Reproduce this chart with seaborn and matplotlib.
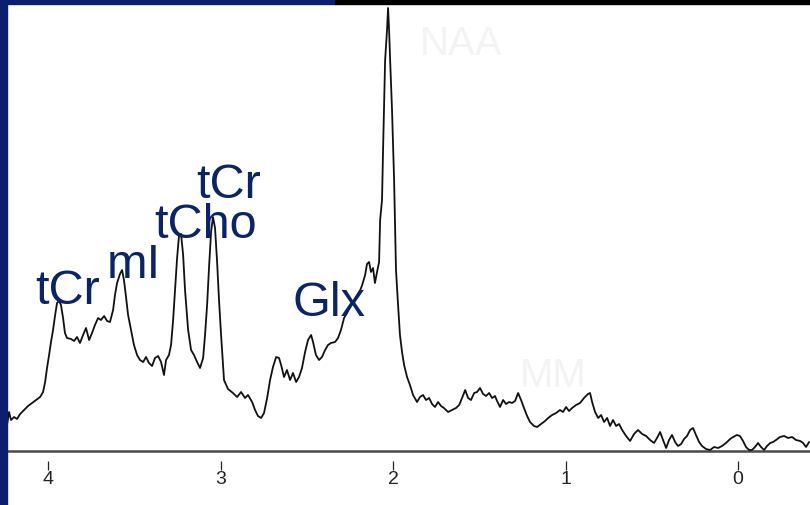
import matplotlib
matplotlib.use("Agg")
import matplotlib.pyplot as plt
from matplotlib.patches import Rectangle
import seaborn as sns
import pandas as pd

# Proton MR spectrum: chemical shift (ppm) and signal intensity (arbitrary units)
ppm = [
    4.238, 4.226, 4.215, 4.197, 4.180, 4.162, 4.139, 4.116, 4.093, 4.070,
    4.046, 4.029, 4.017, 4.006, 3.994, 3.983, 3.971, 3.959, 3.948, 3.936,
    3.925, 3.913, 3.902, 3.890, 3.867, 3.849, 3.832, 3.815, 3.797, 3.780,
    3.762, 3.745, 3.728, 3.710, 3.693, 3.675, 3.658, 3.641, 3.623, 3.612,
    3.600, 3.583, 3.571, 3.560, 3.548, 3.536, 3.519, 3.502, 3.484, 3.467,
    3.449, 3.432, 3.415, 3.397, 3.380, 3.362, 3.345, 3.328, 3.316, 3.299,
    3.287, 3.275, 3.264, 3.252, 3.241, 3.229, 3.217, 3.206, 3.188, 3.171,
    3.154, 3.136, 3.119, 3.101, 3.090, 3.078, 3.067, 3.055, 3.044, 3.032,
    3.020, 3.009, 2.997, 2.980, 2.957, 2.928, 2.904, 2.881, 2.858, 2.841,
    2.817, 2.800, 2.783, 2.765, 2.748, 2.730, 2.713, 2.696, 2.678, 2.661,
    2.649, 2.632, 2.615, 2.597, 2.580, 2.562, 2.545, 2.528, 2.510, 2.493,
    2.475, 2.464, 2.447, 2.429, 2.412, 2.394, 2.377, 2.360, 2.336, 2.319,
    2.302, 2.284, 2.267, 2.249, 2.232, 2.214, 2.197, 2.179, 2.162, 2.151,
    2.139, 2.128, 2.116, 2.105, 2.093, 2.081, 2.075, 2.064, 2.058, 2.046,
    2.035, 2.029, 2.023, 2.017, 2.006, 1.994, 1.983, 1.971, 1.960, 1.948,
    1.936, 1.919, 1.902, 1.884, 1.861, 1.844, 1.826, 1.809, 1.791, 1.774,
    1.757, 1.739, 1.722, 1.705, 1.681, 1.658, 1.635, 1.617, 1.600, 1.582,
    1.565, 1.548, 1.530, 1.513, 1.496, 1.478, 1.461, 1.443, 1.426, 1.409,
    1.397, 1.380, 1.362, 1.345, 1.327, 1.310, 1.293, 1.275, 1.258, 1.241,
    1.223, 1.206, 1.183, 1.165, 1.142, 1.119, 1.101, 1.078, 1.055, 1.032,
    1.015, 0.997, 0.980, 0.962, 0.939, 0.916, 0.893, 0.870, 0.858, 0.846,
    0.829, 0.811, 0.794, 0.777, 0.759, 0.742, 0.725, 0.707, 0.690, 0.672,
    0.649, 0.626, 0.603, 0.580, 0.556, 0.533, 0.510, 0.487, 0.470, 0.452,
    0.435, 0.417, 0.400, 0.383, 0.365, 0.348, 0.330, 0.313, 0.296, 0.278,
    0.261, 0.244, 0.226, 0.209, 0.186, 0.162, 0.139, 0.116, 0.093, 0.070,
    0.046, 0.029, 0.006, -0.011, -0.029, -0.046, -0.064, -0.081, -0.098, -0.116,
    -0.133, -0.151, -0.168, -0.186, -0.203, -0.220, -0.243, -0.267, -0.290, -0.313,
    -0.336, -0.360, -0.377, -0.394, -0.412,
]
intensity = [
    26, 39, 31, 34, 32, 37, 41, 45, 48, 51,
    54, 59, 69, 83, 96, 109, 121, 136, 148, 150,
    146, 133, 118, 113, 112, 110, 114, 108, 116, 123,
    111, 118, 126, 133, 131, 135, 130, 129, 141, 156,
    168, 177, 181, 171, 154, 136, 121, 106, 96, 91,
    89, 94, 88, 85, 93, 95, 89, 76, 91, 96,
    106, 131, 161, 193, 215, 217, 196, 161, 121, 101,
    96, 89, 83, 93, 116, 146, 183, 219, 234, 223,
    189, 151, 116, 71, 62, 58, 54, 59, 53, 56,
    49, 41, 35, 33, 38, 53, 71, 84, 94, 93,
    86, 74, 81, 71, 78, 69, 74, 83, 99, 111,
    116, 109, 96, 91, 94, 101, 106, 108, 109, 113,
    121, 133, 138, 145, 149, 154, 158, 166, 176, 187,
    189, 179, 183, 168, 179, 189, 231, 251, 301, 391,
    421, 443, 421, 391, 341, 271, 181, 146, 116, 99,
    86, 74, 66, 56, 49, 54, 56, 51, 53, 47,
    44, 49, 45, 43, 39, 41, 43, 46, 53, 61,
    53, 51, 58, 59, 63, 57, 55, 58, 53, 55,
    50, 44, 51, 47, 49, 48, 50, 58, 51, 43,
    35, 29, 25, 24, 27, 30, 33, 36, 38, 41,
    39, 44, 40, 43, 46, 48, 53, 57, 58, 49,
    39, 33, 36, 29, 33, 25, 31, 25, 27, 21,
    15, 10, 17, 21, 17, 15, 11, 8, 13, 19,
    11, 3, 11, 16, 9, 5, 7, 12, 15, 21,
    23, 16, 9, 5, 2, 1, 4, 3, 5, 8,
    12, 14, 16, 15, 10, 4, 1, 1, 4, 8,
    4, 1, 5, 8, 9, 11, 14, 15, 13, 14,
    11, 10, 8, 4, 9,
]

# Metabolite labels: text, left edge (ppm), baseline (intensity)
peak_labels = ["tCr", "mI", "tCho", "tCr", "Glx"]
label_ppm = [4.075, 3.662, 3.385, 3.141, 2.585]
label_height = [147, 173, 213, 253, 135]

# Faint background labels
faint_labels = ["NAA", "MM"]
faint_ppm = [1.843, 1.264]
faint_height = [396, 64]

tick_values = [4, 3, 2, 1, 0]
tick_labels = ["4", "3", "2", "1", "0"]

sns.set_style("white")
plt.rcParams["font.family"] = ["Liberation Sans", "DejaVu Sans"]

W, H = 810, 505
fig = plt.figure(figsize=(W / 100, H / 100), dpi=100)
fig.patch.set_facecolor("white")

# slide frame: blue strip on the left and top, black bar on the top right
navy = "#0b1f6e"
fig.patches.append(Rectangle((0, 0), 7 / W, 1, transform=fig.transFigure,
                             color=navy, zorder=0))
fig.patches.append(Rectangle((0, 1 - 4 / H), 335 / W, 4 / H,
                             transform=fig.transFigure, color=navy, zorder=0))
fig.patches.append(Rectangle((335 / W, 1 - 4 / H), 1 - 335 / W, 4 / H,
                             transform=fig.transFigure, color="black", zorder=0))

ax = fig.add_axes([7 / W, 0, (W - 7) / W, (H - 4) / H])
ax.set_facecolor("white")

df = pd.DataFrame({"ppm": ppm, "intensity": intensity})
sns.lineplot(data=df, x="ppm", y="intensity", sort=False, estimator=None,
             color="#111111", linewidth=1.3, ax=ax, zorder=3)

ax.set_xlim(4.238, -0.417)
ax.set_ylim(-54, 447)

# baseline of the spectrum
ax.axhline(0, color="#4a4a4a", linewidth=1.8, zorder=2)

for s in ax.spines.values():
    s.set_visible(False)
ax.spines["bottom"].set_position(("data", -10))
ax.set_xticks(tick_values)
ax.set_xticklabels(tick_labels, family=["Liberation Sans Narrow", "Liberation Sans"],
                   fontsize=14, color="#222222")
ax.tick_params(axis="x", direction="out", length=6.5, width=0.9, color="#222222",
               pad=0.5, bottom=True)
ax.set_yticks([])
ax.set_xlabel("")
ax.set_ylabel("")

text_color = "#0b2465"
for t, x, y in zip(peak_labels, label_ppm, label_height):
    ax.text(x, y, t, ha="left", va="baseline", fontsize=35, color=text_color,
            zorder=4)

for t, x, y in zip(faint_labels, faint_ppm, faint_height):
    ax.text(x, y, t, ha="left", va="baseline", fontsize=29, color="#f3f3f3",
            zorder=1)

fig.savefig("out.png", dpi=100, facecolor=fig.get_facecolor())
